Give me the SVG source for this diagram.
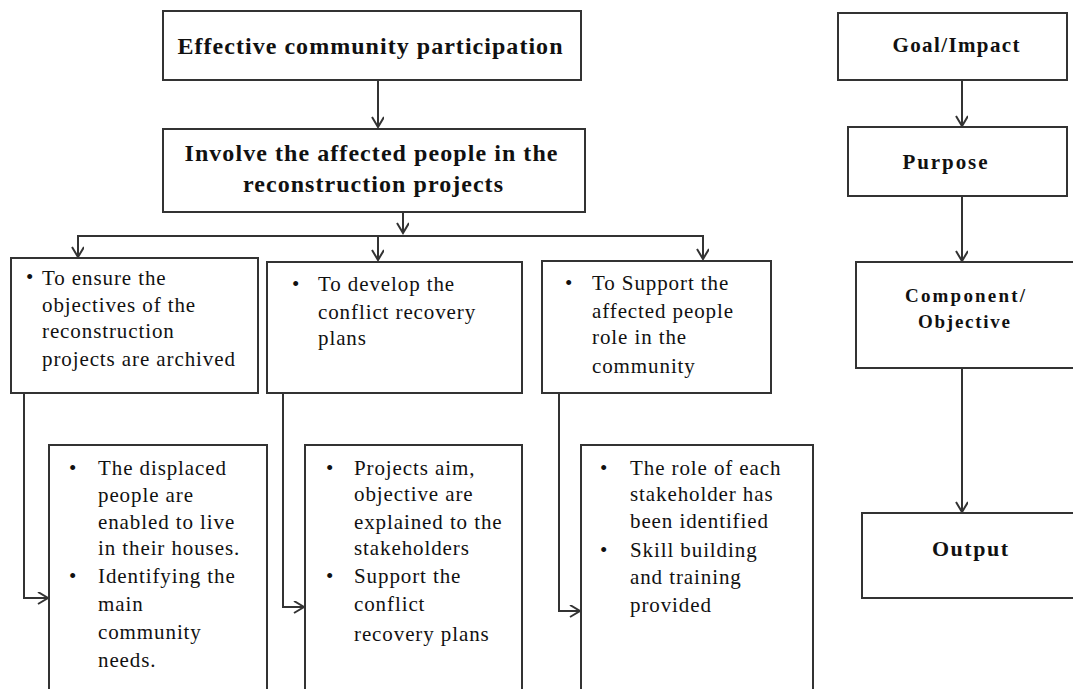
<svg xmlns="http://www.w3.org/2000/svg" width="1073" height="689" viewBox="0 0 1073 689">
<style>
.box{fill:#fff;stroke:#333;stroke-width:2}
.t{font-family:"Liberation Serif","Times New Roman",serif;font-size:21px;letter-spacing:0.9px;fill:#111}
.h{font-family:"Liberation Serif","Times New Roman",serif;font-size:24px;font-weight:bold;fill:#111;text-anchor:middle}
.hs{font-family:"Liberation Serif","Times New Roman",serif;font-size:21px;font-weight:bold;fill:#111;text-anchor:middle}
.c{fill:none;stroke:#333;stroke-width:2}
</style>
<defs>
<marker id="arr" markerUnits="userSpaceOnUse" markerWidth="14" markerHeight="14" refX="11" refY="6" orient="auto">
<path d="M1,0 L11,6 L1,12" fill="none" stroke="#333" stroke-width="2"/>
</marker>
</defs>
<rect width="1073" height="689" fill="#fff"/>
<g id="connectors">
<line class="c" x1="378" y1="80" x2="378" y2="127" marker-end="url(#arr)"/>
<line class="c" x1="403" y1="212" x2="403" y2="233" marker-end="url(#arr)"/>
<line class="c" x1="77" y1="236" x2="704" y2="236"/>
<line class="c" x1="78" y1="236" x2="78" y2="257" marker-end="url(#arr)"/>
<line class="c" x1="378" y1="236" x2="378" y2="260" marker-end="url(#arr)"/>
<line class="c" x1="703" y1="236" x2="703" y2="259" marker-end="url(#arr)"/>
<polyline class="c" points="24,393 24,598 48,598" marker-end="url(#arr)"/>
<polyline class="c" points="283,393 283,607 304,607" marker-end="url(#arr)"/>
<polyline class="c" points="559,393 559,611 580,611" marker-end="url(#arr)"/>
<line class="c" x1="962" y1="80" x2="962" y2="126" marker-end="url(#arr)"/>
<line class="c" x1="962" y1="196" x2="962" y2="261" marker-end="url(#arr)"/>
<line class="c" x1="962" y1="368" x2="962" y2="512" marker-end="url(#arr)"/>
</g>
<g id="n-effective">
<rect class="box" x="163" y="11" width="418" height="69"/>
<text class="h" x="370" y="54" textLength="385" lengthAdjust="spacing">Effective community participation</text>
</g>
<g id="n-involve">
<rect class="box" x="163" y="129" width="422" height="83"/>
<text class="h" x="371" y="161" textLength="373" lengthAdjust="spacing">Involve the affected people in the</text>
<text class="h" x="373" y="192" textLength="260" lengthAdjust="spacing">reconstruction projects</text>
</g>
<g id="n-ensure">
<rect class="box" x="11" y="258" width="247" height="135"/>
<text class="t" x="26" y="284">•</text>
<text class="t" x="42" y="285">To ensure the</text>
<text class="t" x="42" y="312">objectives of the</text>
<text class="t" x="42" y="338">reconstruction</text>
<text class="t" x="42" y="366">projects are archived</text>
</g>
<g id="n-develop">
<rect class="box" x="267" y="262" width="255" height="131"/>
<text class="t" x="292" y="291">•</text>
<text class="t" x="318" y="291">To develop the</text>
<text class="t" x="318" y="319">conflict recovery</text>
<text class="t" x="318" y="345">plans</text>
</g>
<g id="n-support">
<rect class="box" x="542" y="261" width="229" height="132"/>
<text class="t" x="565" y="290">•</text>
<text class="t" x="592" y="290">To Support the</text>
<text class="t" x="592" y="318">affected people</text>
<text class="t" x="592" y="344">role in the</text>
<text class="t" x="592" y="373">community</text>
</g>
<g id="n-displaced">
<rect class="box" x="49" y="445" width="218" height="260"/>
<text class="t" x="69" y="475">•</text>
<text class="t" x="98" y="475">The displaced</text>
<text class="t" x="98" y="502">people are</text>
<text class="t" x="98" y="529">enabled to live</text>
<text class="t" x="98" y="555">in their houses.</text>
<text class="t" x="69" y="583">•</text>
<text class="t" x="98" y="583">Identifying the</text>
<text class="t" x="98" y="611">main</text>
<text class="t" x="98" y="639">community</text>
<text class="t" x="98" y="667">needs.</text>
</g>
<g id="n-projects">
<rect class="box" x="305" y="445" width="217" height="260"/>
<text class="t" x="326" y="475">•</text>
<text class="t" x="354" y="475">Projects aim,</text>
<text class="t" x="354" y="501">objective are</text>
<text class="t" x="354" y="529">explained to the</text>
<text class="t" x="354" y="555">stakeholders</text>
<text class="t" x="326" y="583">•</text>
<text class="t" x="354" y="583">Support the</text>
<text class="t" x="354" y="611">conflict</text>
<text class="t" x="354" y="641">recovery plans</text>
</g>
<g id="n-role">
<rect class="box" x="581" y="445" width="232" height="260"/>
<text class="t" x="600" y="475">•</text>
<text class="t" x="630" y="475">The role of each</text>
<text class="t" x="630" y="501">stakeholder has</text>
<text class="t" x="630" y="528">been identified</text>
<text class="t" x="600" y="557">•</text>
<text class="t" x="630" y="557">Skill building</text>
<text class="t" x="630" y="584">and training</text>
<text class="t" x="630" y="612">provided</text>
</g>
<g id="n-goal">
<rect class="box" x="838" y="13" width="229" height="67"/>
<text class="hs" x="956" y="52" textLength="127" lengthAdjust="spacing">Goal/Impact</text>
</g>
<g id="n-purpose">
<rect class="box" x="848" y="127" width="219" height="69"/>
<text class="hs" x="945" y="169" textLength="85" lengthAdjust="spacing">Purpose</text>
</g>
<g id="n-component">
<rect class="box" x="856" y="262" width="230" height="106"/>
<text class="hs" x="965" y="302" style="font-size:19px" textLength="120" lengthAdjust="spacing">Component/</text>
<text class="hs" x="964" y="328" style="font-size:19px" textLength="92" lengthAdjust="spacing">Objective</text>
</g>
<g id="n-output">
<rect class="box" x="862" y="513" width="224" height="85"/>
<text class="hs" x="970" y="556" style="font-size:22px" textLength="76" lengthAdjust="spacing">Output</text>
</g>
</svg>
